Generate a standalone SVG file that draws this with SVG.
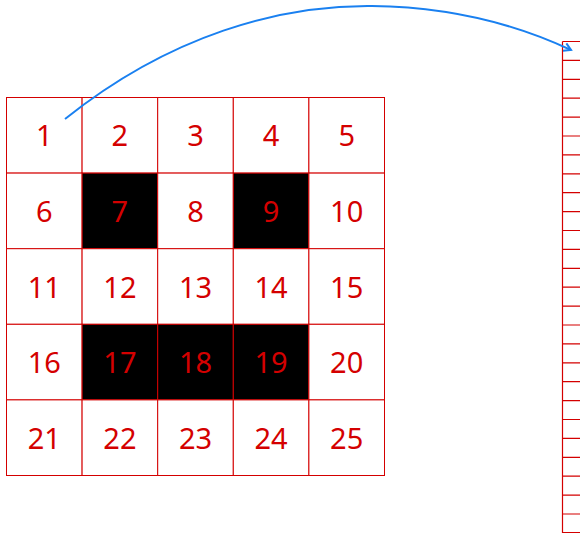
<svg xmlns="http://www.w3.org/2000/svg" width="580" height="533" viewBox="0 0 580 533">
<style>
.c{fill:#fff;stroke:#d40000;stroke-width:1}
.b{fill:#000;stroke:#d40000;stroke-width:1}
.t{font-family:"Noto Sans","Open Sans",sans-serif;font-size:29px;fill:#d40000;text-anchor:middle}
.v{stroke:#d40000;stroke-width:1.2;fill:none}
</style>
<defs>
<marker id="ah" viewBox="0 0 10 10" refX="8" refY="5" markerWidth="10" markerHeight="10" markerUnits="userSpaceOnUse" orient="auto">
<path d="M1,1 L8,5 L1,9" fill="none" stroke="#1a80f0" stroke-width="2"/>
</marker>
</defs>
<g id="grid">
<g id="n1"><rect class="c" x="6.5" y="97.5" width="75.6" height="75.6"/><text class="t" x="44.3" y="145.5">1</text></g>
<g id="n2"><rect class="c" x="82.1" y="97.5" width="75.6" height="75.6"/><text class="t" x="119.9" y="145.5">2</text></g>
<g id="n3"><rect class="c" x="157.7" y="97.5" width="75.6" height="75.6"/><text class="t" x="195.5" y="145.5">3</text></g>
<g id="n4"><rect class="c" x="233.3" y="97.5" width="75.6" height="75.6"/><text class="t" x="271.1" y="145.5">4</text></g>
<g id="n5"><rect class="c" x="308.9" y="97.5" width="75.6" height="75.6"/><text class="t" x="346.7" y="145.5">5</text></g>
<g id="n6"><rect class="c" x="6.5" y="173.1" width="75.6" height="75.6"/><text class="t" x="44.3" y="221.5">6</text></g>
<g id="n7"><rect class="b" x="82.1" y="173.1" width="75.6" height="75.6"/><text class="t" x="119.9" y="221.5">7</text></g>
<g id="n8"><rect class="c" x="157.7" y="173.1" width="75.6" height="75.6"/><text class="t" x="195.5" y="221.5">8</text></g>
<g id="n9"><rect class="b" x="233.3" y="173.1" width="75.6" height="75.6"/><text class="t" x="271.1" y="221.5">9</text></g>
<g id="n10"><rect class="c" x="308.9" y="173.1" width="75.6" height="75.6"/><text class="t" x="346.7" y="221.5">10</text></g>
<g id="n11"><rect class="c" x="6.5" y="248.7" width="75.6" height="75.6"/><text class="t" x="44.3" y="297.5">11</text></g>
<g id="n12"><rect class="c" x="82.1" y="248.7" width="75.6" height="75.6"/><text class="t" x="119.9" y="297.5">12</text></g>
<g id="n13"><rect class="c" x="157.7" y="248.7" width="75.6" height="75.6"/><text class="t" x="195.5" y="297.5">13</text></g>
<g id="n14"><rect class="c" x="233.3" y="248.7" width="75.6" height="75.6"/><text class="t" x="271.1" y="297.5">14</text></g>
<g id="n15"><rect class="c" x="308.9" y="248.7" width="75.6" height="75.6"/><text class="t" x="346.7" y="297.5">15</text></g>
<g id="n16"><rect class="c" x="6.5" y="324.3" width="75.6" height="75.6"/><text class="t" x="44.3" y="373">16</text></g>
<g id="n17"><rect class="b" x="82.1" y="324.3" width="75.6" height="75.6"/><text class="t" x="119.9" y="373">17</text></g>
<g id="n18"><rect class="b" x="157.7" y="324.3" width="75.6" height="75.6"/><text class="t" x="195.5" y="373">18</text></g>
<g id="n19"><rect class="b" x="233.3" y="324.3" width="75.6" height="75.6"/><text class="t" x="271.1" y="373">19</text></g>
<g id="n20"><rect class="c" x="308.9" y="324.3" width="75.6" height="75.6"/><text class="t" x="346.7" y="373">20</text></g>
<g id="n21"><rect class="c" x="6.5" y="399.9" width="75.6" height="75.6"/><text class="t" x="44.3" y="448.5">21</text></g>
<g id="n22"><rect class="c" x="82.1" y="399.9" width="75.6" height="75.6"/><text class="t" x="119.9" y="448.5">22</text></g>
<g id="n23"><rect class="c" x="157.7" y="399.9" width="75.6" height="75.6"/><text class="t" x="195.5" y="448.5">23</text></g>
<g id="n24"><rect class="c" x="233.3" y="399.9" width="75.6" height="75.6"/><text class="t" x="271.1" y="448.5">24</text></g>
<g id="n25"><rect class="c" x="308.9" y="399.9" width="75.6" height="75.6"/><text class="t" x="346.7" y="448.5">25</text></g>
</g>
<g id="vector">
<path class="v" d="M562.5,41.5 V533 M562.5,41.5 H580 M562.5,60.4 H580 M562.5,79.3 H580 M562.5,98.2 H580 M562.5,117.1 H580 M562.5,136 H580 M562.5,154.9 H580 M562.5,173.8 H580 M562.5,192.7 H580 M562.5,211.6 H580 M562.5,230.5 H580 M562.5,249.4 H580 M562.5,268.3 H580 M562.5,287.2 H580 M562.5,306.1 H580 M562.5,325 H580 M562.5,343.9 H580 M562.5,362.8 H580 M562.5,381.7 H580 M562.5,400.6 H580 M562.5,419.5 H580 M562.5,438.4 H580 M562.5,457.3 H580 M562.5,476.2 H580 M562.5,495.1 H580 M562.5,514 H580 M562.5,532.5 H580"/>
</g>
<g id="connectors">
<path d="M65,119 C170,35 280,5 372,6 C455,7 522,27 571,50" fill="none" stroke="#1a80f0" stroke-width="2" marker-end="url(#ah)"/>
</g>
</svg>
